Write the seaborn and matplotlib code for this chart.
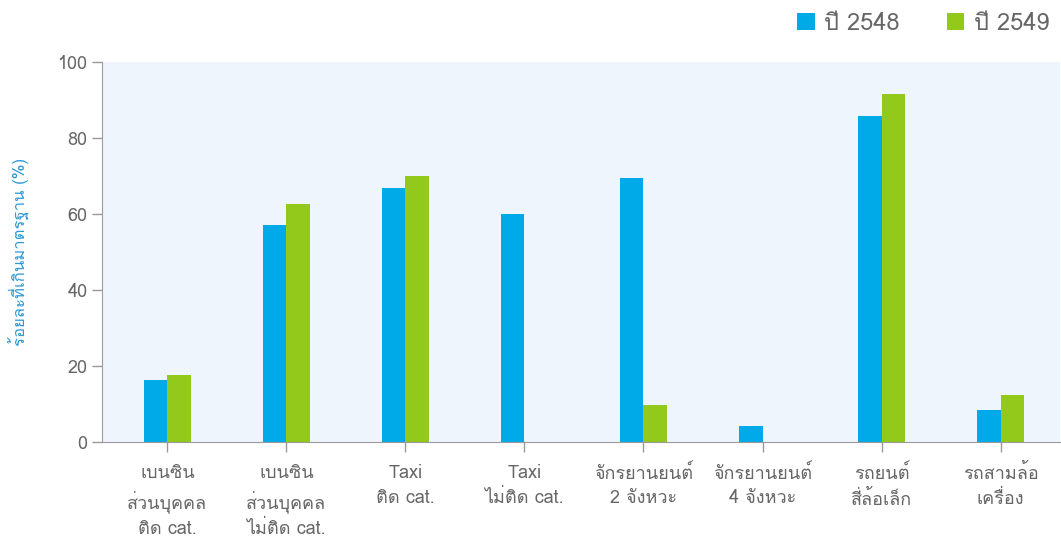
import pandas as pd
import numpy as np
import matplotlib
matplotlib.use("Agg")
import matplotlib.pyplot as plt
from matplotlib import font_manager
from matplotlib.ft2font import FT2Font
import seaborn as sns

categories = [
    "เบนซิน\nส่วนบุคคล\nติด cat.",
    "เบนซิน\nส่วนบุคคล\nไม่ติด cat.",
    "Taxi\nติด cat.",
    "Taxi\nไม่ติด cat.",
    "จักรยานยนต์\n2 จังหวะ",
    "จักรยานยนต์\n4 จังหวะ",
    "รถยนต์\nสี่ล้อเล็ก",
    "รถสามล้อ\nเครื่อง",
]
years = ["ปี 2548", "ปี 2549"]
values_2548 = [16.3, 57.1, 66.8, 60.0, 69.5, 4.2, 85.8, 8.4]
values_2549 = [17.6, 62.6, 70.0, np.nan, 9.7, np.nan, 91.6, 12.4]
y_label = "ร้อยละที่เกินมาตรฐาน (%)"
y_ticks = [0, 20, 40, 60, 80, 100]

# find an installed font that can draw Thai
def thai_font():
    for f in font_manager.fontManager.ttflist:
        try:
            if 0x0E40 in FT2Font(f.fname).get_charmap():
                return f.name
        except Exception:
            pass
    return None

sns.set_style("ticks")
fam = thai_font()
plt.rcParams['font.family'] = [fam, 'DejaVu Sans'] if fam else ['DejaVu Sans']

df = pd.DataFrame({
    "cat": categories * 2,
    "year": [years[0]] * 8 + [years[1]] * 8,
    "value": values_2548 + values_2549,
}).dropna()

fig = plt.figure(figsize=(10.61, 5.43), dpi=100)
ax = fig.add_axes([0.0961, 0.186, 0.903, 0.700])
ax.set_facecolor("#EEF5FC")

sns.barplot(data=df, x="cat", y="value", hue="year", order=categories,
            hue_order=years, palette=["#00A9E8", "#92C91B"], width=0.39,
            saturation=1, linewidth=0, ax=ax)

ax.set_xlim(-0.55, 7.5)
ax.set_ylim(0, 100)
ax.set_yticks(y_ticks)
ax.set_xlabel("")
ax.set_ylabel(y_label, color="#2E9AD6", fontsize=12, labelpad=20)
ax.tick_params(axis="both", colors="#999999", labelcolor="#666666",
               labelsize=13, length=7, width=1)
ax.tick_params(axis="x", pad=9)
for t in ax.get_xticklabels():
    t.set_linespacing(1.45)
for s in ["top", "right"]:
    ax.spines[s].set_visible(False)
for s in ["left", "bottom"]:
    ax.spines[s].set_color("#9A9A9A")

handles, labels = ax.get_legend_handles_labels()
ax.legend(handles, labels, loc="upper right", bbox_to_anchor=(1.0, 1.0),
          bbox_transform=fig.transFigure, ncol=2, frameon=False,
          fontsize=17, labelcolor="#666666", handlelength=0.75,
          handleheight=0.75, handletextpad=0.4, columnspacing=2.0,
          borderaxespad=0.1)

fig.savefig("out.png", dpi=100)
